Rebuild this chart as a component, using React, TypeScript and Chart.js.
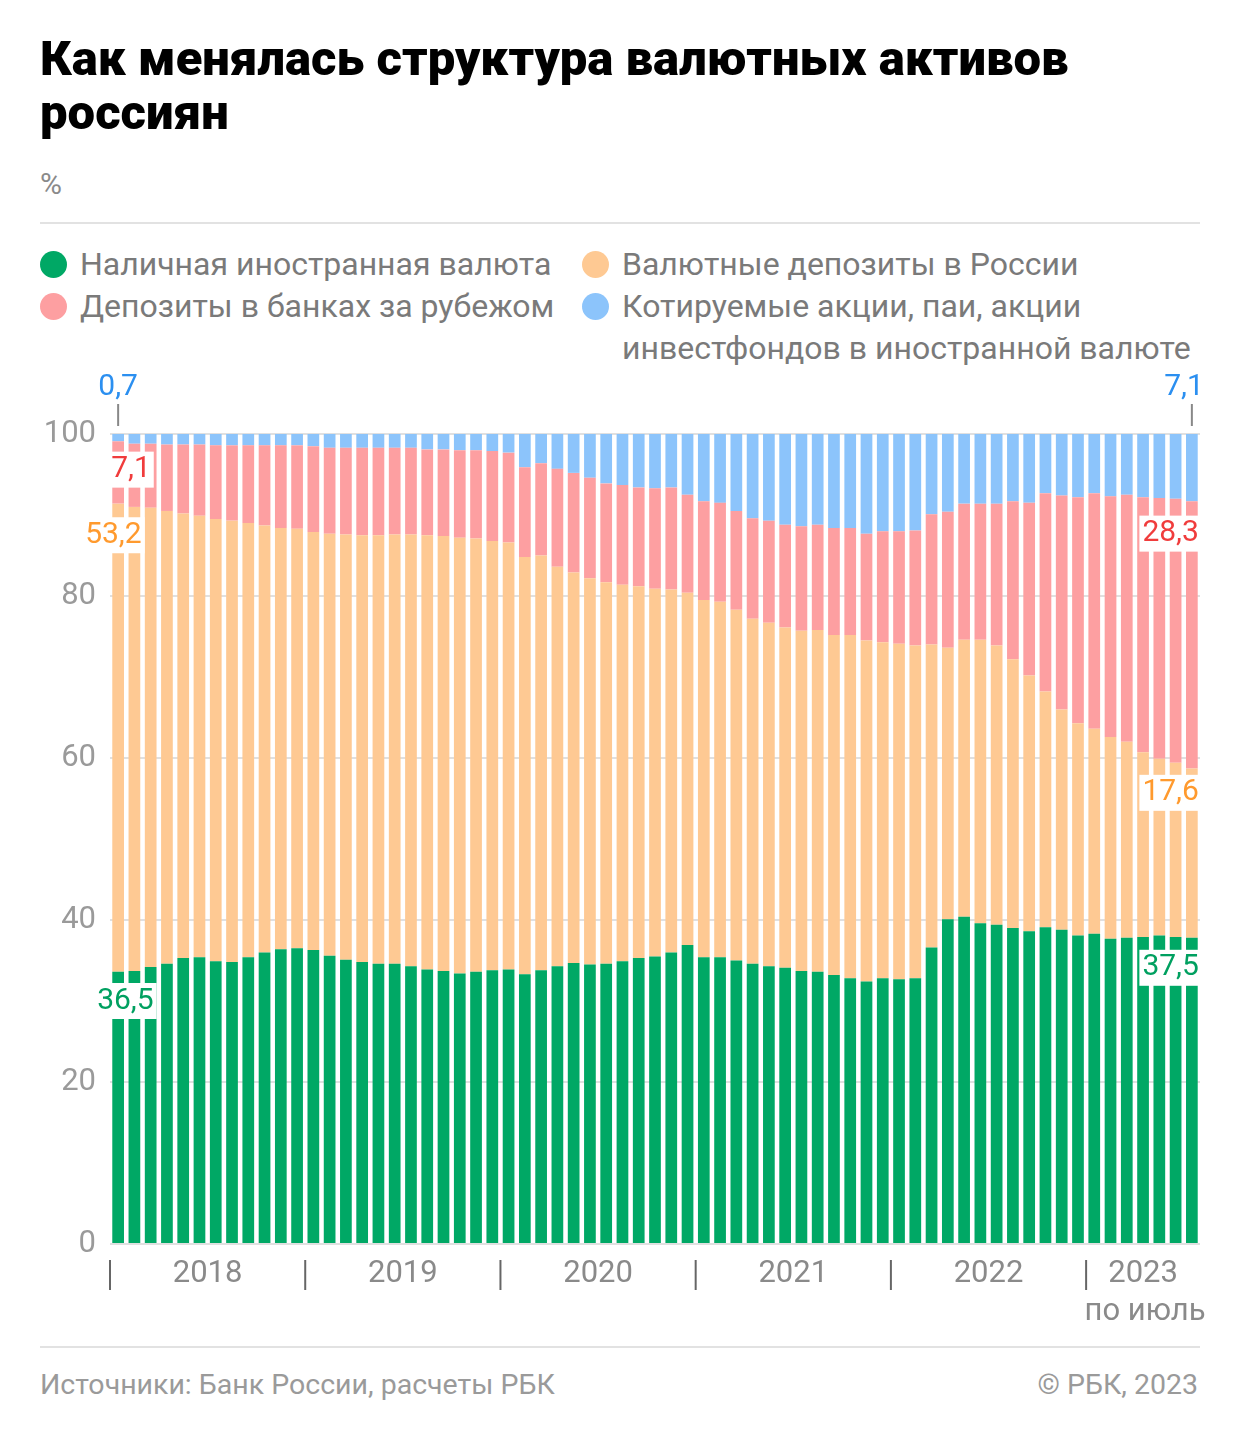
import React, { useEffect, useRef } from "react";
import { Chart, registerables } from "chart.js";
Chart.register(...registerables);

const years = ["2018", "2019", "2020", "2021", "2022", "2023"];
const months = Array.from({ length: 67 }, (_, i) => `${2018 + Math.floor(i / 12)}-${(i % 12) + 1}`);
// cumulative tops, %
const cashTop = [33.6,33.7,34.2,34.6,35.3,35.4,34.9,34.8,35.4,36.0,36.4,36.5,36.3,35.6,35.1,34.8,34.6,34.6,34.3,33.9,33.7,33.4,33.6,33.8,33.9,33.3,33.8,34.3,34.7,34.5,34.6,34.9,35.3,35.5,36.0,36.9,35.4,35.4,35.0,34.6,34.3,34.1,33.7,33.6,33.2,32.8,32.4,32.8,32.7,32.8,36.6,40.1,40.4,39.6,39.4,39.0,38.6,39.1,38.8,38.1,38.3,37.7,37.8,37.9,38.1,37.9,37.8];
const depTop = [91.4,91.0,90.9,90.5,90.2,89.9,89.5,89.3,89.0,88.7,88.4,88.3,87.9,87.7,87.6,87.5,87.5,87.6,87.6,87.5,87.4,87.2,87.1,86.8,86.6,84.8,85.0,83.6,82.9,82.2,81.7,81.4,81.2,80.9,80.8,80.4,79.5,79.3,78.3,77.2,76.7,76.1,75.7,75.8,75.2,75.2,74.5,74.3,74.1,73.9,74.0,73.6,74.6,74.6,73.9,72.2,70.2,68.2,66.0,64.3,63.6,62.6,62.0,60.7,59.9,59.4,58.7];
const abroadTop = [99.1,98.8,98.8,98.7,98.7,98.7,98.6,98.6,98.6,98.6,98.6,98.6,98.5,98.3,98.3,98.3,98.3,98.3,98.3,98.1,98.1,98.0,98.0,97.9,97.7,95.9,96.4,95.7,95.2,94.6,93.9,93.7,93.4,93.3,93.4,92.5,91.7,91.5,90.5,89.6,89.3,88.8,88.6,88.8,88.4,88.4,87.7,88.0,88.0,88.1,90.1,90.4,91.4,91.4,91.4,91.7,91.5,92.7,92.4,92.2,92.7,92.3,92.5,92.2,92.1,92.0,91.7];
const startLabels = { blue: "0,7", red: "7,1", orange: "53,2", green: "36,5" };
const endLabels = { blue: "7,1", red: "28,3", orange: "17,6", green: "37,5" };

const C = { green: "#00a865", orange: "#fec993", red: "#fd9fa1", blue: "#8cc4fb" };
const T = { green: "#00a060", orange: "#ff9a2e", red: "#f03c3c", blue: "#2b8ff0" };
const FONT = "Roboto, 'Noto Sans', sans-serif";

export default function App() {
  const ref = useRef<HTMLCanvasElement>(null);
  useEffect(() => {
    document.body.style.margin = "0";
    const labelsPlugin = {
      id: "labels",
      afterDraw(chart: any) {
        const ctx = chart.ctx;
        const x = chart.scales.x, y = chart.scales.y, a = chart.chartArea;
        ctx.save();
        const bounds: number[] = [a.left];
        for (let i = 1; i < years.length; i++) {
          const k = i * 12;
          bounds.push((x.getPixelForValue(k) + x.getPixelForValue(k - 1)) / 2);
        }
        bounds.push(a.right);
        ctx.strokeStyle = "#666"; ctx.lineWidth = 2;
        for (let i = 0; i < years.length; i++) {
          ctx.beginPath(); ctx.moveTo(bounds[i], a.bottom + 16); ctx.lineTo(bounds[i], a.bottom + 46); ctx.stroke();
        }
        ctx.fillStyle = "#8a8a8a"; ctx.font = `31px ${FONT}`; ctx.textAlign = "center"; ctx.textBaseline = "middle";
        for (let i = 0; i < years.length; i++) {
          ctx.fillText(years[i], (bounds[i] + bounds[i + 1]) / 2, a.bottom + 30);
        }
        ctx.fillText("по июль", (bounds[5] + bounds[6]) / 2 + 2, a.bottom + 68);
        const x0 = x.getPixelForValue(0), x1 = x.getPixelForValue(months.length - 1);
        const lbl = (t: string, col: string, cx: number, cy: number, align: "left" | "right") => {
          ctx.font = `30px ${FONT}`;
          const w = ctx.measureText(t).width + 6;
          const left = align === "left" ? cx - 10 : cx - w + 10;
          ctx.fillStyle = "#fff"; ctx.fillRect(left, cy - 18, w, 36);
          ctx.fillStyle = col; ctx.textAlign = "left"; ctx.fillText(t, left + 3, cy);
        };
        ctx.strokeStyle = "#888"; ctx.lineWidth = 2;
        ctx.beginPath(); ctx.moveTo(x0, a.top - 30); ctx.lineTo(x0, a.top - 8); ctx.stroke();
        ctx.beginPath(); ctx.moveTo(x1, a.top - 30); ctx.lineTo(x1, a.top - 8); ctx.stroke();
        ctx.font = `30px ${FONT}`; ctx.textBaseline = "middle";
        ctx.fillStyle = T.blue; ctx.textAlign = "center"; ctx.fillText(startLabels.blue, x0, a.top - 47);
        ctx.textAlign = "right"; ctx.fillText(endLabels.blue, x1 + 12, a.top - 47);
        lbl(startLabels.red, T.red, x0, y.getPixelForValue(95.6), "left");
        lbl(startLabels.orange, T.orange, x0 - 26, y.getPixelForValue(87.5), "left");
        lbl(startLabels.green, T.green, x0 - 14, y.getPixelForValue(30.0), "left");
        lbl(endLabels.red, T.red, x1, y.getPixelForValue(87.7), "right");
        lbl(endLabels.orange, T.orange, x1, y.getPixelForValue(55.7), "right");
        lbl(endLabels.green, T.green, x1, y.getPixelForValue(34.1), "right");
        ctx.restore();
      },
    };
    const mk = (label: string, lo: number[] | null, hi: number[], color: string) => ({
      label,
      data: hi.map((v, i) => [lo ? lo[i] : 0, v]),
      backgroundColor: color,
      borderWidth: 0,
      barPercentage: 0.72,
      categoryPercentage: 1,
      grouped: false,
    });
    const full = cashTop.map(() => 100);
    const chart = new Chart(ref.current!, {
      type: "bar",
      data: {
        labels: months,
        datasets: [
          mk("Наличная иностранная валюта", null, cashTop, C.green),
          mk("Валютные депозиты в России", cashTop, depTop, C.orange),
          mk("Депозиты в банках за рубежом", depTop, abroadTop, C.red),
          mk("Котируемые акции", abroadTop, full, C.blue),
        ] as any,
      },
      options: {
        animation: false,
        responsive: false,
        devicePixelRatio: 1,
        layout: { padding: { top: 64, right: 40, bottom: 86, left: 0 } },
        plugins: { legend: { display: false }, tooltip: { enabled: false } },
        scales: {
          x: { display: false, offset: true },
          y: {
            min: 0, max: 100,
            afterFit: (s: any) => { s.width = 110; },
            border: { display: false },
            grid: { color: "rgba(0,0,0,0.12)", lineWidth: 2, drawTicks: false },
            ticks: { stepSize: 20, color: "#9a9a9a", font: { size: 31, family: FONT }, padding: 14 },
          },
        },
      },
      plugins: [labelsPlugin],
    });
    return () => chart.destroy();
  }, []);

  const dot = (c: string) => (
    <span style={{ display: "inline-block", width: 27, height: 27, borderRadius: 14, background: c, marginRight: 13, verticalAlign: "-3px" }} />
  );
  const legTxt: React.CSSProperties = { fontSize: 32, color: "#7a7a7a", lineHeight: "42px" };
  return (
    <div style={{ position: "relative", width: 1240, height: 1436, fontFamily: FONT, background: "#fff" }}>
      <div style={{ position: "absolute", left: 40, top: 32, fontSize: 49, fontWeight: 900, lineHeight: "54px", color: "#000", width: 1100 }}>
        Как менялась структура валютных активов россиян
      </div>
      <div style={{ position: "absolute", left: 40, top: 166, fontSize: 30, color: "#8a8a8a" }}>%</div>
      <div style={{ position: "absolute", left: 40, top: 222, width: 1160, height: 2, background: "#e2e2e2" }} />
      <div style={{ position: "absolute", left: 40, top: 243, ...legTxt }}>
        <div>{dot(C.green)}Наличная иностранная валюта</div>
        <div>{dot(C.red)}Депозиты в банках за рубежом</div>
      </div>
      <div style={{ position: "absolute", left: 582, top: 243, ...legTxt }}>
        <div>{dot(C.orange)}Валютные депозиты в России</div>
        <div style={{ display: "flex" }}>
          <div>{dot(C.blue)}</div>
          <div>Котируемые акции, паи, акции<br />инвестфондов в иностранной валюте</div>
        </div>
      </div>
      <canvas ref={ref} width={1240} height={960} style={{ position: "absolute", left: 0, top: 370, width: 1240, height: 960 }} />
      <div style={{ position: "absolute", left: 40, top: 1346, width: 1160, height: 2, background: "#e2e2e2" }} />
      <div style={{ position: "absolute", left: 40, top: 1368, fontSize: 28.5, color: "#9a9a9a" }}>Источники: Банк России, расчеты РБК</div>
      <div style={{ position: "absolute", right: 42, top: 1368, fontSize: 28.5, color: "#9a9a9a" }}>© РБК, 2023</div>
    </div>
  );
}
